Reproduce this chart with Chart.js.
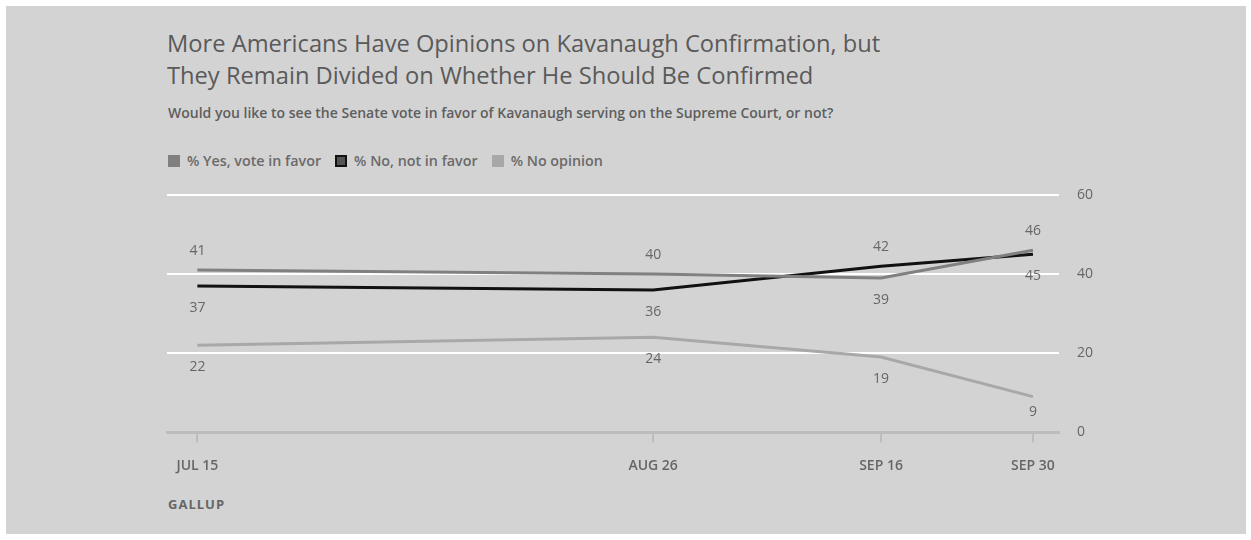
<!DOCTYPE html>
<html>
<head>
<meta charset="utf-8">
<script src="https://cdn.jsdelivr.net/npm/chart.js@4.4.0/dist/chart.umd.min.js"></script>
<style>
  html, body { margin: 0; padding: 0; background: #fff; }
  #frame { position: absolute; left: 6px; top: 6px; width: 1240px; height: 528px; background: #d3d3d3; }
  #chart-wrap { position: absolute; left: 0; top: 0; width: 1251px; height: 540px; }
  .txt { position: absolute; font-family: "Open Sans", sans-serif; color: #5a5a5a; white-space: nowrap; }
  #title { left: 167px; top: 27px; font-size: 23.7px; line-height: 32px; font-weight: 400; }
  #subtitle { left: 168px; top: 103px; font-size: 14px; font-weight: 600; color: #5e5e5e; }
  #legend { left: 168px; top: 151px; font-size: 14.3px; font-weight: 600; color: #6a6a6a; }
  #legend span.item { display: inline-block; margin-right: 14px; }
  #legend span.sw { display: inline-block; width: 12px; height: 12px; vertical-align: -1px; margin-right: 7px; box-sizing: border-box; }
  #source { left: 168px; top: 495px; font-size: 13px; font-weight: 700; color: #666; letter-spacing: 1px; }
</style>
</head>
<body>
<div id="frame"></div>
<div id="title" class="txt">More Americans Have Opinions on Kavanaugh Confirmation, but<br>They Remain Divided on Whether He Should Be Confirmed</div>
<div id="subtitle" class="txt">Would you like to see the Senate vote in favor of Kavanaugh serving on the Supreme Court, or not?</div>
<div id="legend" class="txt"></div>
<div id="source" class="txt">GALLUP</div>
<div id="chart-wrap"><canvas id="c" width="1251" height="540"></canvas></div>
<script>
// poll dates, as days since Jul 15 so the x axis keeps real spacing
const dateLabels = ['JUL 15', 'AUG 26', 'SEP 16', 'SEP 30'];
const dateDays   = [0, 42, 63, 77];

const yesVals       = [41, 40, 39, 46];
const noVals        = [37, 36, 42, 45];
const noOpinionVals = [22, 24, 19, 9];

const seriesNames = ['% Yes, vote in favor', '% No, not in favor', '% No opinion'];
const yTicks = [0, 20, 40, 60];

const COLORS = {
  yes:  '#808080',
  no:   '#111111',
  none: '#a8a8a8',
  text: '#666666',
  grid: '#ffffff',
  axis: '#bcbcbc',
};

// where each value label sits relative to its point
const labelPlace = [
  ['above', 'above', 'below', 'above'],
  ['below', 'below', 'above', 'below'],
  ['below', 'below', 'below', 'low'],
];

function toPoints(vals) {
  return vals.map((v, i) => ({ x: dateDays[i], y: v }));
}

function makeLine(label, vals, color) {
  return {
    label,
    data: toPoints(vals),
    borderColor: color,
    backgroundColor: color,
    borderWidth: 3,
    pointRadius: 0,
    tension: 0,
  };
}

// ── Legend (HTML) ──────────────────────────────────────────────────────────
const legendEl = document.getElementById('legend');
const swatches = [
  { fill: COLORS.yes,  border: COLORS.yes },
  { fill: '#555555',   border: '#111111' },
  { fill: COLORS.none, border: COLORS.none },
];
legendEl.innerHTML = seriesNames.map((n, i) =>
  `<span class="item"><span class="sw" style="background:${swatches[i].fill};border:2px solid ${swatches[i].border}"></span>${n}</span>`
).join('');

// ── Value labels plugin ───────────────────────────────────────────────────
const valueLabels = {
  id: 'valueLabels',
  afterDatasetsDraw(chart) {
    const { ctx } = chart;
    ctx.save();
    ctx.font = '400 14px "Open Sans", sans-serif';
    ctx.fillStyle = COLORS.text;
    ctx.textAlign = 'center';
    ctx.textBaseline = 'middle';
    chart.data.datasets.forEach((ds, di) => {
      const meta = chart.getDatasetMeta(di);
      meta.data.forEach((pt, i) => {
        const place = labelPlace[di][i];
        let dy = place === 'above' ? -19 : place === 'low' ? 15 : 22;
        ctx.fillText(String(ds.data[i].y), pt.x, pt.y + dy);
      });
    });
    ctx.restore();
  },
};

new Chart(document.getElementById('c'), {
  type: 'line',
  data: {
    datasets: [
      makeLine(seriesNames[0], yesVals, COLORS.yes),
      makeLine(seriesNames[1], noVals, COLORS.no),
      makeLine(seriesNames[2], noOpinionVals, COLORS.none),
    ],
  },
  options: {
    responsive: false,
    animation: false,
    layout: { padding: { left: 167, top: 195, right: 140, bottom: 51 } },
    plugins: {
      legend: { display: false },
      tooltip: { enabled: false },
    },
    scales: {
      x: {
        type: 'linear',
        min: -2.8,
        max: 79.4,
        afterBuildTicks: axis => { axis.ticks = dateDays.map(v => ({ value: v })); },
        grid: { drawOnChartArea: false, drawTicks: true, tickLength: 10, color: COLORS.axis, lineWidth: 2 },
        border: { display: true, color: COLORS.axis, width: 3 },
        ticks: {
          autoSkip: false,
          maxRotation: 0,
          padding: 15,
          color: COLORS.text,
          font: { family: '"Open Sans", sans-serif', size: 14, weight: '600' },
          callback: v => dateLabels[dateDays.indexOf(v)] ?? '',
        },
      },
      y: {
        position: 'right',
        min: 0,
        max: 60,
        afterBuildTicks: axis => { axis.ticks = yTicks.map(v => ({ value: v })); },
        grid: {
          drawTicks: false,
          lineWidth: 2,
          color: c => (c.tick && c.tick.value === 0 ? 'rgba(0,0,0,0)' : COLORS.grid),
        },
        border: { display: false },
        ticks: {
          padding: 18,
          color: COLORS.text,
          font: { family: '"Open Sans", sans-serif', size: 14 },
        },
      },
    },
  },
  plugins: [valueLabels],
});
</script>
</body>
</html>
